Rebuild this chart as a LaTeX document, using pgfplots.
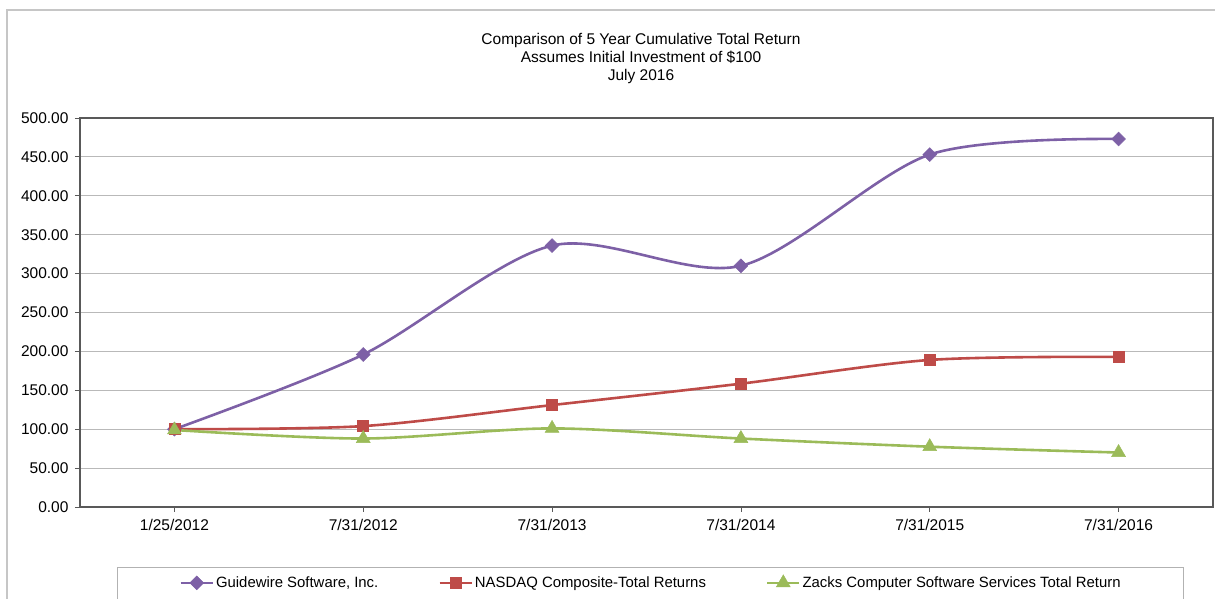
\documentclass[border=0pt]{standalone}
\usepackage{fontspec}
\setmainfont{Liberation Sans}
\usepackage{pgfplots}
\pgfplotsset{compat=1.18}
\definecolor{gwpurple}{HTML}{7D60A6}
\definecolor{ndred}{HTML}{BE4B48}
\definecolor{zkgreen}{HTML}{9BBB59}
\begin{document}
\begin{tikzpicture}[x=1pt,y=1pt]
\useasboundingbox (0,0) rectangle (1215,599);
\draw[gray!45, line width=1.5pt] (7,-10) -- (7,589) -- (1225,589);
\node[align=center, font=\fontsize{15.5}{18}\selectfont, inner sep=0pt] at (641,540) {Comparison of 5 Year Cumulative Total Return\\Assumes Initial Investment of \$100\\July 2016};
\draw[gray!60, line width=1pt] (117,-5) rectangle (1183,31);
\begin{axis}[
  at={(80pt,92pt)}, anchor=south west,
  scale only axis, width=1133pt, height=389pt,
  xmin=-0.5, xmax=5.5, ymin=0, ymax=500,
  xtick={0,1,2,3,4,5},
  xticklabels={1/25/2012,7/31/2012,7/31/2013,7/31/2014,7/31/2015,7/31/2016},
  ytick={0,50,...,500},
  xtick pos=bottom, ytick pos=left,
  tick label style={font=\fontsize{15.5}{18}\selectfont},
  xticklabel style={yshift=-4pt},
  yticklabel style={xshift=-3pt, /pgf/number format/.cd, fixed, fixed zerofill, precision=2, 1000 sep={}, assume math mode=true},
  tick align=outside, major tick length=5pt,
  tick style={gray!70!black, line width=0.8pt},
  ymajorgrids, grid style={gray!55, line width=1pt},
  axis line style={gray!70!black, line width=1.3pt},
  legend columns=3,
  legend style={at={(0.504,-0.195)}, anchor=center, draw=none, fill=none,
    font=\fontsize{14.9}{17}\selectfont,
    /tikz/every even column/.append style={column sep=58pt},
    nodes={inner xsep=2pt}},
  legend cell align=left,
  legend image code/.code={\draw[#1, mark repeat=2, mark phase=2] plot coordinates {(0pt,0pt) (16pt,0pt) (32pt,0pt)};},
  every axis plot/.append style={line width=2.6pt, smooth, tension=0.5},
]
\addplot[color=gwpurple, mark=square*, mark size=4.9pt, mark options={rotate=45, line width=0.5pt}] coordinates {(0,100) (1,196) (2,336) (3,310) (4,453) (5,473)};
\addlegendentry{Guidewire Software, Inc.}
\addplot[color=ndred, mark=square*, mark size=5.5pt, mark options={line width=0.5pt}] coordinates {(0,100) (1,104) (2,131) (3,158.5) (4,189) (5,193)};
\addlegendentry{NASDAQ Composite-Total Returns}
\addplot[color=zkgreen, mark=triangle*, mark size=8pt, mark options={line width=0.5pt}] coordinates {(0,99) (1,88) (2,101) (3,88) (4,77.5) (5,70)};
\addlegendentry{Zacks Computer Software Services Total Return}
\end{axis}
\end{tikzpicture}
\end{document}
